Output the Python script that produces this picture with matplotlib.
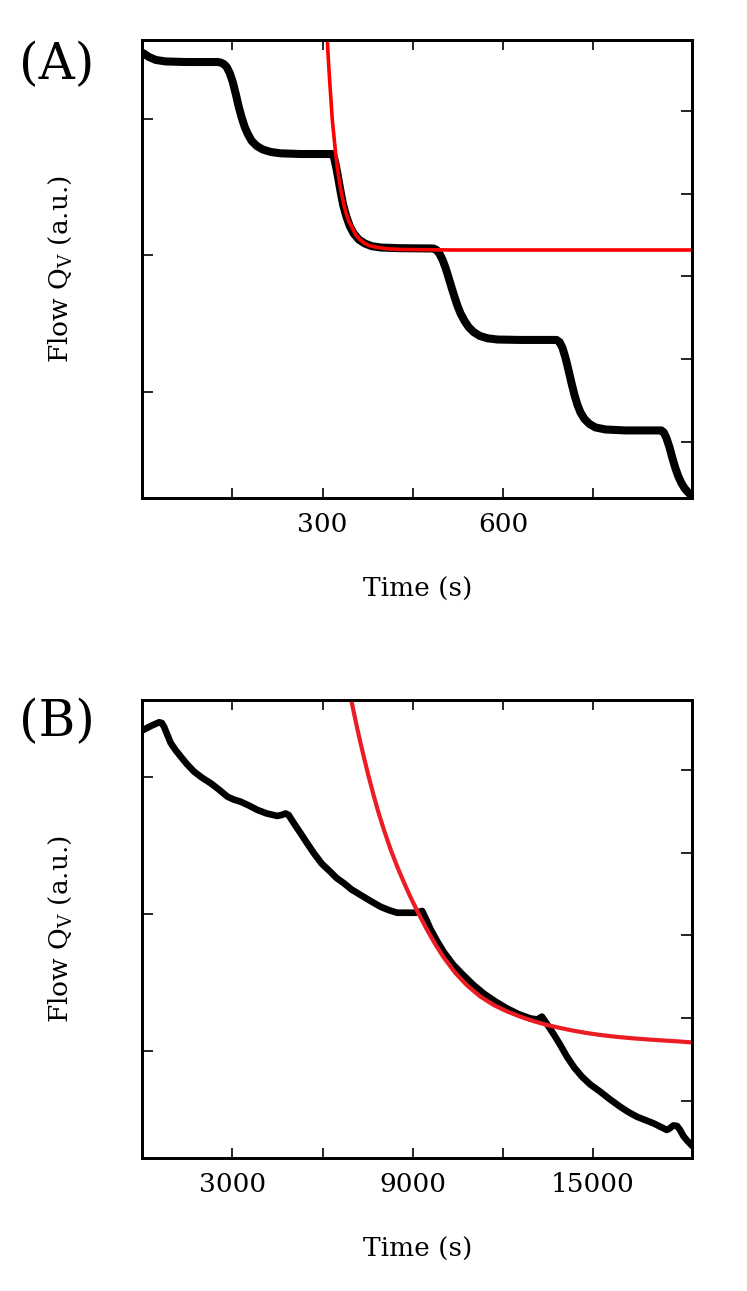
import matplotlib
matplotlib.use("Agg")
import matplotlib.pyplot as plt

plt.rcParams['font.family'] = ['DejaVu Serif']
plt.rcParams['mathtext.fontset'] = 'dejavuserif'

# ---------------- Panel A data (time in s, flow in a.u.) ----------------
a_time = [1, 10.9, 22.5, 39.1, 72.4, 105.6, 125.6, 130.5, 135.5, 140.5, 145.5,
          150.5, 155.5, 160.5, 165.5, 170.4, 175.4, 182.1, 190.4, 200.4, 213.7,
          230.3, 263.5, 316.2, 319.2, 322.5, 325.9, 330.0, 334.2, 339.2, 345.0,
          351.6, 360.0, 369.9, 381.6, 396.5, 429.8, 484.6, 489.6, 494.6, 499.6,
          504.6, 509.5, 514.5, 519.5, 524.5, 529.5, 536.1, 542.8, 551.1, 561.1,
          574.4, 591.0, 629.2, 689.1, 694.1, 699.1, 704.1, 709.0, 714.0, 719.0,
          724.0, 729.0, 735.6, 743.9, 753.9, 770.5, 803.8, 863.6, 867.7, 871.9,
          876.9, 881.9, 886.8, 891.8, 896.8, 901.8, 906.8, 911.8, 915.0]
a_flow = [3.480, 3.451, 3.429, 3.418, 3.414, 3.414, 3.414, 3.410, 3.399, 3.377,
          3.333, 3.268, 3.180, 3.085, 3.005, 2.939, 2.888, 2.836, 2.800, 2.774,
          2.756, 2.746, 2.741, 2.741, 2.712, 2.646, 2.566, 2.463, 2.368, 2.288,
          2.215, 2.160, 2.116, 2.087, 2.067, 2.057, 2.052, 2.050, 2.039, 2.010,
          1.966, 1.907, 1.838, 1.765, 1.695, 1.629, 1.574, 1.520, 1.476, 1.439,
          1.411, 1.393, 1.384, 1.381, 1.381, 1.366, 1.322, 1.249, 1.161, 1.066,
          0.978, 0.905, 0.850, 0.803, 0.766, 0.741, 0.726, 0.719, 0.719, 0.704,
          0.664, 0.598, 0.517, 0.444, 0.382, 0.335, 0.298, 0.272, 0.250, 0.236]

a_fit_time = [305.5, 307.9, 310.0, 312.2, 316.2, 319.0, 321.7, 324.5, 327.2,
              331.0, 335.5, 339.5, 343.8, 349.0, 354.9, 361.5, 368.7, 378.0,
              391.0, 410.0, 429.6, 512.9, 915.0]
a_fit_flow = [3.800, 3.568, 3.395, 3.244, 2.985, 2.862, 2.745, 2.645, 2.561,
              2.461, 2.368, 2.302, 2.246, 2.204, 2.151, 2.117, 2.091, 2.070,
              2.058, 2.047, 2.043, 2.039, 2.039]

# ---------------- Panel B data ----------------
b_time = [35, 284, 560, 650, 726, 849, 949, 1115, 1281, 1481, 1724, 1980, 2279,
          2545, 2834, 3043, 3276, 3542, 3831, 4140, 4496, 4639, 4772, 4872,
          4939, 5105, 5271, 5470, 5713, 5969, 6268, 6467, 6710, 6966, 7265,
          7597, 7930, 8196, 8485, 9094, 9203, 9316, 9459, 9592, 9791, 10034,
          10357, 10699, 11022, 11364, 11753, 12142, 12517, 12917, 13150, 13305,
          13471, 13691, 13914, 14136, 14379, 14635, 14911, 15244, 15576, 15909,
          16174, 16463, 16739, 17015, 17238, 17460, 17553, 17680, 17803, 17902,
          18012, 18135, 18311]
b_flow = [3.346, 3.375, 3.402, 3.397, 3.368, 3.302, 3.249, 3.196, 3.151, 3.097,
          3.041, 2.998, 2.956, 2.911, 2.858, 2.837, 2.821, 2.794, 2.761, 2.735,
          2.717, 2.724, 2.735, 2.724, 2.700, 2.644, 2.590, 2.523, 2.444, 2.369,
          2.307, 2.263, 2.225, 2.179, 2.139, 2.095, 2.053, 2.029, 2.009, 2.009,
          2.015, 2.022, 1.956, 1.890, 1.810, 1.722, 1.627, 1.550, 1.481, 1.418,
          1.360, 1.309, 1.268, 1.236, 1.228, 1.249, 1.195, 1.122, 1.042, 0.956,
          0.877, 0.810, 0.753, 0.700, 0.643, 0.590, 0.552, 0.517, 0.493, 0.469,
          0.445, 0.420, 0.431, 0.453, 0.449, 0.420, 0.376, 0.343, 0.303]

b_fit_time = [6883, 6956, 7049, 7155, 7265, 7375, 7531, 7707, 7863, 8040, 8262,
              8485, 8695, 8927, 9193, 9482, 9758, 10034, 10423, 10812, 11254,
              11696, 12142, 12584, 13026, 13471, 13914, 14356, 14801, 15244,
              15798, 16350, 16905, 17460, 17902, 18311]
b_fit_flow = [3.646, 3.565, 3.467, 3.357, 3.251, 3.148, 3.009, 2.863, 2.742,
              2.618, 2.475, 2.347, 2.238, 2.124, 2.004, 1.883, 1.777, 1.682,
              1.568, 1.477, 1.396, 1.334, 1.287, 1.249, 1.216, 1.188, 1.166,
              1.146, 1.129, 1.115, 1.101, 1.090, 1.081, 1.073, 1.067, 1.060]

a_xticks = [150, 300, 450, 600, 750]
a_xticklabels = ["", "300", "", "600", ""]
b_xticks = [3000, 6000, 9000, 12000, 15000]
b_xticklabels = ["3000", "", "9000", "", "15000"]

W, H = 747, 1291
fig = plt.figure(figsize=(W / 100, H / 100), dpi=100)


def make_panel(top_px, bottom_px, xlim, ylim_left, ylim_right, xticks, xlabels,
               t, y, ft, fy, fit_color, lw_data, lw_fit, label, label_y):
    left_px, right_px = 142.3, 692.3
    ax = fig.add_axes([left_px / W, 1 - bottom_px / H,
                       (right_px - left_px) / W, (bottom_px - top_px) / H])
    ax.plot(t, y, color='black', lw=lw_data, solid_capstyle='round',
            solid_joinstyle='round', zorder=2)
    ax.plot(ft, fy, color=fit_color, lw=lw_fit, zorder=3,
            solid_joinstyle='round')
    ax.set_xlim(*xlim)
    ax.set_ylim(*ylim_left)
    ax.set_xticks(xticks)
    ax.set_xticklabels(xlabels)
    ax.set_yticks([1, 2, 3])
    ax.set_yticklabels([])
    ax.tick_params(axis='x', direction='in', length=7, width=1.2, top=True,
                   labelsize=19, pad=10)
    ax.tick_params(axis='y', direction='in', length=8, width=1.2, right=False)
    for s in ax.spines.values():
        s.set_linewidth(2)
    ax.set_xlabel('Time (s)', fontsize=19, labelpad=29)
    ax.set_ylabel(r'Flow Q$_\mathrm{V}$ (a.u.)', fontsize=19)
    ax.yaxis.set_label_coords(-0.124, 0.5)

    ax2 = ax.twinx()
    ax2.set_ylim(*ylim_right)
    ax2.set_yticks([1, 2, 3, 4, 5])
    ax2.set_yticklabels([])
    ax2.tick_params(axis='y', direction='in', length=8, width=1.2)
    for s in ax2.spines.values():
        s.set_linewidth(2)

    fig.text(57 / W, 1 - label_y / H, label, fontsize=36, ha='center',
             va='center')
    return ax


make_panel(40, 498, (0, 915), (0.2248, 3.575), (0.3195, 5.857),
           a_xticks, a_xticklabels, a_time, a_flow, a_fit_time, a_fit_flow,
           '#ff0000', 5.8, 2.6, '(A)', 65)
make_panel(700, 1158, (0, 18310), (0.215, 3.565), (0.307, 5.844),
           b_xticks, b_xticklabels, b_time, b_flow, b_fit_time, b_fit_flow,
           '#ec1c24', 4.8, 3.0, '(B)', 722)

fig.savefig('out.png', dpi=100)
